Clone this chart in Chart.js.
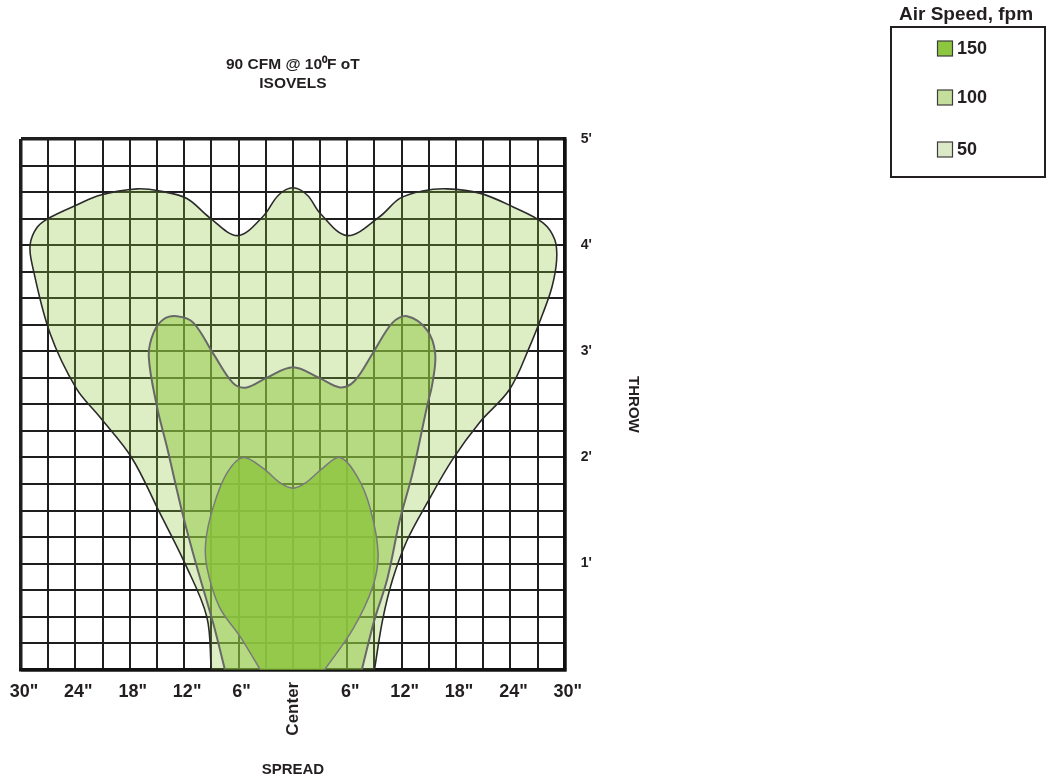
<!DOCTYPE html>
<html>
<head>
<meta charset="utf-8">
<script src="https://cdn.jsdelivr.net/npm/chart.js@4.4.1/dist/chart.umd.min.js"></script>
<style>
html, body { margin: 0; padding: 0; background: #ffffff; }
canvas { display: block; }
</style>
</head>
<body>
<canvas id="c" width="1051" height="779"></canvas>
<script>
// ---------------- data ----------------
const titleLines = ['90 CFM @ 10\u2070F \u03bfT', 'ISOVELS'];
const legendTitle = 'Air Speed, fpm';
const speeds = ['150', '100', '50'];

// isovel outlines: spread in inches (x), throw in feet (y); each shape is closed along the floor line
const spread150 = [-3.6, -5.8, -8.1, -9.5, -9.6, -8.8, -7.3, -5.5, -3.3, -1.4, 0, 1.4, 3.3, 5.2, 7.1, 8.5, 9.4, 8.8, 6.6, 3.5];
const throw150  = [0, 0.31, 0.59, 0.97, 1.22, 1.53, 1.85, 2.0, 1.90, 1.76, 1.71, 1.76, 1.90, 2.0, 1.82, 1.53, 1.10, 0.78, 0.38, 0];

const spread100 = [-7.5, -8.8, -10.6, -12.2, -13.9, -15.0, -15.9, -15.4, -14.3, -12.8, -11.0, -8.8, -6.6, -5.1, -2.9, 0, 2.9, 5.2, 6.8, 8.8, 11.0, 12.6, 14.8, 15.7, 15.4, 14.8, 13.2, 11.8, 10.4, 9.0, 7.6];
const throw100  = [0, 0.44, 0.97, 1.48, 2.10, 2.48, 2.95, 3.17, 3.30, 3.33, 3.27, 2.98, 2.70, 2.66, 2.75, 2.85, 2.75, 2.66, 2.72, 2.98, 3.27, 3.33, 3.20, 2.98, 2.70, 2.48, 1.85, 1.41, 0.85, 0.47, 0];

const spread50 = [-9.0, -9.5, -11.9, -14.7, -17.8, -21.3, -23.9, -26.8, -28.7, -29.0, -28.2, -26.8, -23.8, -21.3, -17.2, -14.7, -11.7, -9.2, -6.1, -3.3, -1.6, 0, 1.6, 3.0, 6.0, 9.6, 11.8, 14.3, 17.0, 20.6, 24.3, 27.6, 28.9, 29.1, 28.6, 27.6, 26.1, 23.9, 20.6, 17.6, 14.8, 12.6, 11.0, 9.9, 9.0];
const throw50  = [0, 0.5, 1.0, 1.48, 2.0, 2.38, 2.65, 3.17, 3.79, 4.0, 4.17, 4.26, 4.38, 4.47, 4.53, 4.51, 4.44, 4.26, 4.09, 4.27, 4.47, 4.54, 4.47, 4.3, 4.09, 4.27, 4.44, 4.51, 4.53, 4.49, 4.36, 4.21, 4.05, 3.86, 3.61, 3.36, 3.04, 2.64, 2.33, 1.98, 1.57, 1.22, 0.85, 0.47, 0];

const spreadTicks = [-30, -24, -18, -12, -6, 0, 6, 12, 18, 24, 30];
const spreadTickLabels = ['30"', '24"', '18"', '12"', '6"', 'Center', '6"', '12"', '18"', '24"', '30"'];
const throwTicks = [1, 2, 3, 4, 5];
const throwTickLabels = ["1'", "2'", "3'", "4'", "5'"];
const spreadTitle = 'SPREAD';
const throwTitle = 'THROW';

// ---------------- styles ----------------
const FAMILY = '"Liberation Sans", Arial, Helvetica, sans-serif';
const TEXT = '#231f20';
const GRID = '#1e1e1e';
const fillColors = ['rgba(141,198,63,0.82)', 'rgba(141,198,63,0.5)', 'rgba(141,198,63,0.3)'];
const lineColors = ['#7a7a7a', '#686868', '#2b2b2b'];
const lineWidths = [1.5, 2, 1.6];
const swatchColors = ['#8dc63f', '#c4df9b', '#dce9c6'];

const toPts = (xs, ys) => xs.map((x, i) => ({ x: x, y: ys[i] }));
const series = [toPts(spread150, throw150), toPts(spread100, throw100), toPts(spread50, throw50)];

const datasets = series.map((pts, i) => ({
  label: speeds[i],
  data: pts,
  showLine: true,
  fill: 'shape',
  backgroundColor: fillColors[i],
  borderColor: lineColors[i],
  borderWidth: lineWidths[i],
  pointRadius: 0,
  pointHoverRadius: 0,
  tension: 0.35
}));

// "Center" label (rotated) drawn under the 0 tick
const centerLabelPlugin = {
  id: 'centerLabel',
  afterDraw(chart) {
    const ctx = chart.ctx;
    const xs = chart.scales.x;
    const idx = spreadTicks.indexOf(0);
    ctx.save();
    ctx.translate(xs.getPixelForValue(0), chart.chartArea.bottom + 12);
    ctx.rotate(-Math.PI / 2);
    ctx.font = 'bold 17px ' + FAMILY;
    ctx.fillStyle = TEXT;
    ctx.textAlign = 'right';
    ctx.textBaseline = 'middle';
    ctx.fillText(spreadTickLabels[idx], 0, 0);
    ctx.restore();
  }
};

// boxed legend at top right
const boxLegendPlugin = {
  id: 'boxLegend',
  afterDraw(chart) {
    const ctx = chart.ctx;
    const box = { x: 891, y: 27, w: 154, h: 150 };
    const rowY = [48.5, 97.5, 149.5];
    ctx.save();
    ctx.fillStyle = TEXT;
    ctx.font = 'bold 19px ' + FAMILY;
    ctx.textAlign = 'center';
    ctx.textBaseline = 'middle';
    ctx.fillText(legendTitle, 966, 15);
    ctx.lineWidth = 2;
    ctx.strokeStyle = TEXT;
    ctx.strokeRect(box.x, box.y, box.w, box.h);
    chart.data.datasets.forEach((ds, i) => {
      const sx = 937.5, sy = rowY[i] - 7.5;
      ctx.fillStyle = swatchColors[i];
      ctx.fillRect(sx, sy, 15, 15);
      ctx.lineWidth = 1.2;
      ctx.strokeStyle = '#3c3c3c';
      ctx.strokeRect(sx, sy, 15, 15);
      ctx.fillStyle = TEXT;
      ctx.font = 'bold 18px ' + FAMILY;
      ctx.textAlign = 'left';
      ctx.fillText(ds.label, 957, rowY[i] + 1);
    });
    ctx.restore();
  }
};

new Chart(document.getElementById('c'), {
  type: 'scatter',
  data: { datasets: datasets },
  plugins: [centerLabelPlugin, boxLegendPlugin],
  options: {
    responsive: false,
    animation: false,
    events: [],
    layout: { padding: { left: 21, right: 408.6, top: 10, bottom: 0 } },
    plugins: {
      legend: { display: false },
      tooltip: { enabled: false },
      title: {
        display: true,
        text: titleLines,
        fullSize: false,
        color: TEXT,
        font: { family: FAMILY, size: 15.5, weight: 'bold', lineHeight: 1.18 },
        padding: { top: 45.85, bottom: 46.55 }
      }
    },
    scales: {
      x: {
        type: 'linear',
        min: -30,
        max: 30,
        grid: {
          color: GRID,
          drawTicks: false,
          lineWidth: (c) => (c.tick && Math.abs(c.tick.value) === 30) ? 3.5 : 2
        },
        border: { display: true, color: '#111', width: 3.5 },
        ticks: {
          stepSize: 3,
          autoSkip: false,
          maxRotation: 0,
          minRotation: 0,
          padding: 0,
          labelOffset: 3,
          color: TEXT,
          font: { family: FAMILY, size: 18, weight: 'bold', lineHeight: 2.44 },
          callback: (v) => {
            const i = spreadTicks.indexOf(v);
            return (i >= 0 && v !== 0) ? spreadTickLabels[i] : '';
          }
        },
        title: {
          display: true,
          text: spreadTitle,
          color: TEXT,
          font: { family: FAMILY, size: 15, weight: 'bold' },
          padding: { top: 46.7, bottom: 0.6 }
        }
      },
      y: {
        type: 'linear',
        position: 'right',
        min: 0,
        max: 5,
        grid: {
          color: GRID,
          drawTicks: false,
          lineWidth: (c) => (c.tick && (c.tick.value === 5 || c.tick.value === 0)) ? 3.5 : 2
        },
        border: { display: true, color: '#111', width: 3.5 },
        ticks: {
          stepSize: 0.25,
          autoSkip: false,
          padding: 16,
          color: TEXT,
          font: { family: FAMILY, size: 14, weight: 'bold' },
          callback: (v) => {
            const i = throwTicks.indexOf(v);
            return i >= 0 ? throwTickLabels[i] : '';
          }
        },
        title: {
          display: true,
          text: throwTitle,
          color: TEXT,
          font: { family: FAMILY, size: 15, weight: 'bold' },
          padding: { top: 0, bottom: 16.5 }
        }
      }
    }
  }
});
</script>
</body>
</html>
